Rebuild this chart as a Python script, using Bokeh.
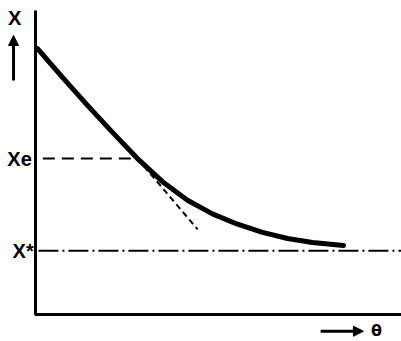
from bokeh.plotting import figure
from bokeh.models import Arrow, NormalHead
from bokeh.core.properties import value
from bokeh.embed import file_html
from bokeh.resources import INLINE

# curve X(theta)
theta = [0.055, 0.738, 1.421, 2.104, 2.787, 3.470, 4.153, 4.836, 5.519, 6.202, 6.885, 7.568, 8.415]
X = [8.75, 7.80, 6.88, 5.99, 5.13, 4.37, 3.76, 3.31, 2.97, 2.70, 2.50, 2.37, 2.27]

# characteristic levels
X_e = 5.13
theta_e = 2.787
X_star = 2.1
# tangent at the point (theta_e, X_e)
tangent_theta = [2.787, 4.43]
tangent_X = [5.13, 2.8]

# axes extent
theta_max = 10.0
X_max = 10.0

p = figure(width=401, height=341, output_backend="svg", toolbar_location=None,
           x_range=(-0.956, 10.0), y_range=(-0.888, 10.33),
           min_border=0, min_border_left=0, min_border_right=0,
           min_border_top=0, min_border_bottom=0)
p.axis.visible = False
p.grid.visible = False
p.outline_line_color = None
p.background_fill_color = "white"

# axes lines
p.line([0, 0, theta_max], [X_max, 0, 0], line_color="black", line_width=3)

# X* asymptote (dash-dot)
p.line([0.08, theta_max], [X_star, X_star], line_color="black", line_width=2,
       line_dash="20 4 2 4")

# Xe dashed level
p.line([0.2, theta_e], [X_e, X_e], line_color="black", line_width=2, line_dash="12 7")

# tangent (dashed)
p.line(tangent_theta, tangent_X, line_color="black", line_width=2, line_dash="6 4")

# main curve
p.line(theta, X, line_color="black", line_width=5, line_join="round", line_cap="round")

font = value("Liberation Sans")
p.text([-0.57], [9.75], text=["X"], text_font=font, text_font_size="20px",
       text_font_style="bold", text_align="center", text_baseline="middle", text_color="black")
p.text([-0.1], [X_e], text=["Xe"], text_font=font, text_font_size="20px",
       text_font_style="bold", text_align="right", text_baseline="middle", text_color="black")
p.text([-0.05], [X_star], text=["X*"], text_font=font, text_font_size="20px",
       text_font_style="bold", text_align="right", text_baseline="middle", text_color="black")
p.text([9.32], [-0.53], text=["θ"], text_font=value("DejaVu Sans"), text_font_size="16px",
       text_font_style="bold", text_align="center", text_baseline="middle", text_color="black")

# arrows
p.add_layout(Arrow(end=NormalHead(size=10, fill_color="black", line_color="black"),
                   x_start=-0.6, y_start=7.7, x_end=-0.6, y_end=9.18,
                   line_color="black", line_width=3))
p.add_layout(Arrow(end=NormalHead(size=10, fill_color="black", line_color="black"),
                   x_start=7.79, y_start=-0.55, x_end=8.96, y_end=-0.55,
                   line_color="black", line_width=3))

open("out.html", "w").write(file_html(p, INLINE))
